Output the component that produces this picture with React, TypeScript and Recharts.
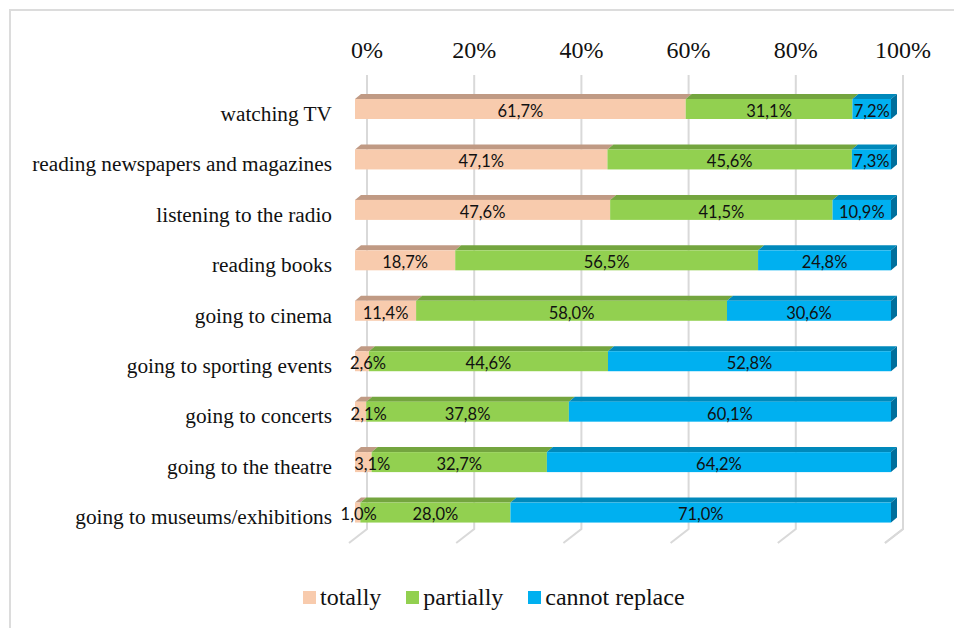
import { Bar, BarChart, CartesianGrid, LabelList, Legend, XAxis, YAxis } from 'recharts';

const activities = [
  'watching TV',
  'reading newspapers and magazines',
  'listening to the radio',
  'reading books',
  'going to cinema',
  'going to sporting events',
  'going to concerts',
  'going to the theatre',
  'going to museums/exhibitions',
];
const totally = [61.7, 47.1, 47.6, 18.7, 11.4, 2.6, 2.1, 3.1, 1.0];
const partially = [31.1, 45.6, 41.5, 56.5, 58.0, 44.6, 37.8, 32.7, 28.0];
const cannotReplace = [7.2, 7.3, 10.9, 24.8, 30.6, 52.8, 60.1, 64.2, 71.0];
const pctTicks = [0, 20, 40, 60, 80, 100];

const rows = activities.map((name, i) => ({
  name,
  totally: totally[i],
  partially: partially[i],
  cannot: cannotReplace[i],
}));

const SERIF = '"Liberation Serif", serif';
const INK = '#111';
const GRID = '#d9d9d9';

// depth of the fake 3d look, in px
const BAR_DX = 6;
const BAR_DY = 5;

// the small "totally" labels were dragged right by hand in the original
const NUDGE: Record<number, number> = { 5: 6, 6: 8, 7: 9, 8: 1 };

const fmt = (v: unknown) => `${Number(v).toFixed(1).replace('.', ',')}%`;

function Bar3d({ x, y, width, height, fill, topFill, sideFill }: any) {
  return (
    <g>
      <polygon
        points={`${x},${y} ${x + BAR_DX},${y - BAR_DY} ${x + width + BAR_DX},${y - BAR_DY} ${x + width},${y}`}
        fill={topFill}
      />
      {sideFill && (
        <polygon
          points={`${x + width},${y} ${x + width + BAR_DX},${y - BAR_DY} ${x + width + BAR_DX},${y + height - BAR_DY} ${x + width},${y + height}`}
          fill={sideFill}
        />
      )}
      <rect x={x} y={y} width={width} height={height} fill={fill} />
    </g>
  );
}

// back wall gridline plus the slanted bit on the floor
function WallLine({ x1, y1, y2 }: any) {
  return (
    <path
      d={`M${x1 + 12},${y1 - 9} L${x1 + 12},${y2 - 9} L${x1 - 6},${y2 + 5}`}
      fill="none"
      stroke={GRID}
      strokeWidth={2}
    />
  );
}

function LegendRow({ payload }: any) {
  return (
    <div style={{ display: 'flex', alignItems: 'center', fontFamily: SERIF, fontSize: 24, color: INK }}>
      {payload.map((p: any) => (
        <span key={p.value} style={{ display: 'flex', alignItems: 'center', marginRight: 25 }}>
          <span style={{ width: 13, height: 13, background: p.color, marginRight: 4 }} />
          {p.value}
        </span>
      ))}
    </div>
  );
}

const labelProps = { fill: '#111', fontFamily: 'Lato', fontSize: 16.5, dy: 2 };

function TotallyLabel({ x, y, width, height, value, index }: any) {
  return (
    <text
      x={x + width / 2 + (NUDGE[index] ?? 0)}
      y={y + height / 2 + 2}
      dy="0.355em"
      textAnchor="middle"
      fill={labelProps.fill}
      fontFamily={labelProps.fontFamily}
      fontSize={labelProps.fontSize}
    >
      {fmt(value)}
    </text>
  );
}

export default function App() {
  return (
    <div style={{ position: 'absolute', left: 0, top: 0, width: 954, height: 628, overflow: 'hidden', background: '#fff' }}>
      <div style={{ position: 'absolute', left: 9, top: 9, width: 945, height: 619, borderLeft: '2px solid #dcdcdc', borderTop: '2px solid #dcdcdc' }} />
      <BarChart
        width={954}
        height={628}
        data={rows}
        layout="vertical"
        barSize={20}
        margin={{ top: 44, right: 63, bottom: 63, left: 0 }}
        style={{ position: 'absolute', left: 0, top: 0 }}
      >
        <CartesianGrid horizontal={false} vertical={(props: any) => <WallLine key={props.key} {...props} />} />
        <XAxis
          type="number"
          orientation="top"
          domain={[0, 100]}
          ticks={pctTicks}
          height={40}
          axisLine={false}
          tickLine={false}
          tickSize={0}
          tickMargin={26}
          tickFormatter={(v) => `${v}%`}
          tick={{ fill: INK, fontFamily: SERIF, fontSize: 24, dx: 12 }}
          interval={0}
        />
        <YAxis
          type="category"
          dataKey="name"
          width={355}
          axisLine={false}
          tickLine={false}
          tickSize={0}
          tickMargin={23}
          tick={{ fill: INK, fontFamily: SERIF, fontSize: 21.3, dy: 4 }}
          interval={0}
        />
        <Legend
          verticalAlign="bottom"
          itemSorter={null}
          content={<LegendRow />}
          wrapperStyle={{ position: 'absolute', left: 303, top: 584, width: 500, bottom: 'auto' }}
        />
        <Bar
          dataKey="totally"
          name="totally"
          stackId="a"
          fill="#f8cbad"
          isAnimationActive={false}
          shape={(p: any) => <Bar3d {...p} topFill="#c09a84" />}
        >
          <LabelList dataKey="totally" content={<TotallyLabel />} />
        </Bar>
        <Bar
          dataKey="partially"
          name="partially"
          stackId="a"
          fill="#92d050"
          isAnimationActive={false}
          shape={(p: any) => <Bar3d {...p} topFill="#74a53f" />}
        >
          <LabelList dataKey="partially" position="center" formatter={fmt} {...labelProps} />
        </Bar>
        <Bar
          dataKey="cannot"
          name="cannot replace"
          stackId="a"
          fill="#00b0f0"
          isAnimationActive={false}
          shape={(p: any) => <Bar3d {...p} topFill="#0089bb" sideFill="#006f9c" />}
        >
          <LabelList dataKey="cannot" position="center" formatter={fmt} {...labelProps} />
        </Bar>
      </BarChart>
    </div>
  );
}
